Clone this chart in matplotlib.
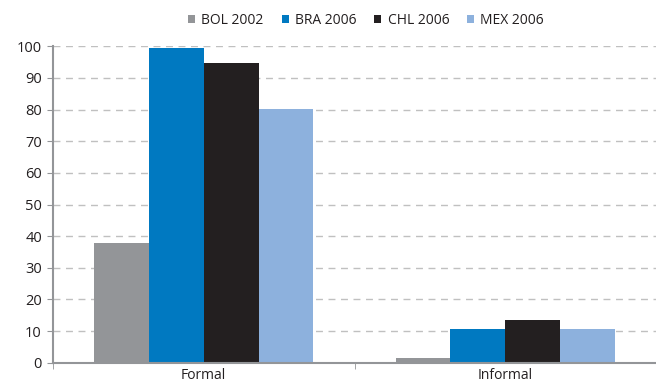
import matplotlib
matplotlib.use("Agg")
import matplotlib.pyplot as plt
import numpy as np

categories = ["Formal", "Informal"]
series_names = ["BOL 2002", "BRA 2006", "CHL 2006", "MEX 2006"]
bol = [37.8, 1.6]
bra = [99.4, 10.8]
chl = [94.6, 13.6]
mex = [80.3, 10.8]
values = [bol, bra, chl, mex]
colors = ["#939598", "#0079C1", "#231F20", "#8DB1DD"]
yticks = [0, 10, 20, 30, 40, 50, 60, 70, 80, 90, 100]

plt.rcParams['font.family'] = ['Open Sans', 'DejaVu Sans']
plt.rcParams['text.color'] = "#231F20"

fig = plt.figure(figsize=(6.56, 3.88), dpi=100)
ax = fig.add_axes([53/656, 1-362.7/388, 603/656, (362.7-46.3)/388])

x = np.arange(len(categories))
w = 0.182
for i, (name, vals, c) in enumerate(zip(series_names, values, colors)):
    ax.bar(x + (i - 1.5) * w, vals, width=w, color=c, label=name, zorder=3)

ax.set_xlim(-0.5, 1.5)
ax.set_ylim(0, 100)
ax.set_yticks(yticks)
ax.set_xticks(x)
ax.set_xticklabels(categories)
ax.set_xticks([-0.5, 0.5, 1.5], minor=True)
ax.tick_params(axis='x', which='major', length=0, labelsize=10, pad=4, labelcolor="#231F20")
ax.tick_params(axis='x', which='minor', length=4, color="#939598", direction='out')
ax.tick_params(axis='y', length=4, color="#939598", labelsize=10.5, pad=4, direction='out',
               labelcolor="#231F20")
ax.yaxis.grid(True, linestyle=(0, (5, 4)), color="#C0C0C0", linewidth=1, zorder=0)
for s in ['top', 'right']:
    ax.spines[s].set_visible(False)
for s in ['left', 'bottom']:
    ax.spines[s].set_color("#939598")
    ax.spines[s].set_linewidth(1.5)
    ax.spines[s].set_zorder(4)

fig.legend(loc='center', bbox_to_anchor=(0.558, 0.948), ncol=4, frameon=False,
           fontsize=10, handlelength=0.5, handleheight=0.5, handletextpad=0.45,
           columnspacing=1.3)

fig.savefig("out.png", dpi=100)
